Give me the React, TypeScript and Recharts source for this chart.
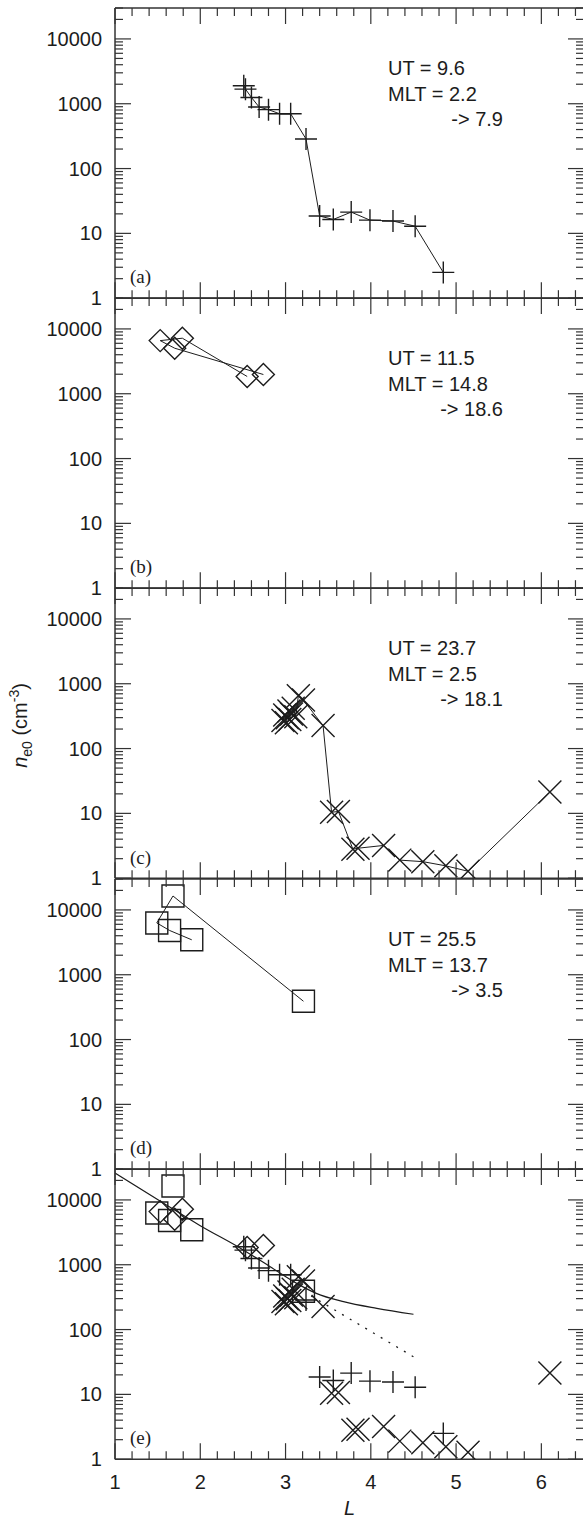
import React from 'react';
import { LineChart, Line, XAxis, YAxis } from 'recharts';

// values: L shell and electron density n_e0 (cm^-3)
const plusL = [2.51, 2.53, 2.6, 2.69, 2.8, 2.93, 3.06, 3.24, 3.4, 3.56, 3.77, 3.99, 4.26, 4.52, 4.85];
const plusN = [1890, 1680, 1250, 890, 810, 700, 700, 286, 18.5, 16.4, 21.3, 16, 15.5, 12.9, 2.5];

const diamondL = [2.55, 1.79, 1.53, 1.7, 2.74];
const diamondN = [1845, 7190, 6600, 5040, 1980];

const crossL = [2.97, 2.99, 3.01, 3.02, 3.04, 3.05, 3.07, 3.09, 3.12, 3.15, 3.21, 3.44, 3.54, 3.62, 3.79, 3.85, 4.15, 4.34, 4.61, 4.88, 5.14, 6.1];
const crossN = [270, 330, 250, 300, 380, 280, 340, 420, 310, 650, 560, 226, 10.4, 10.7, 2.8, 2.9, 3.2, 1.9, 1.8, 1.55, 1.28, 21.4];

const squareL = [3.21, 1.68, 1.49, 1.64, 1.9];
const squareN = [390, 16400, 6300, 4820, 3460];

// model curves in panel (e)
const fitL = [1.0, 1.57, 2.0, 2.47, 2.82, 3.13, 3.36, 3.68, 4.07, 4.5];
const fitN = [26000, 8900, 4000, 1800, 933, 516, 362, 269, 212, 172];
const dottedL = [3.3, 4.5];
const dottedN = [330, 38];

const decades = [1, 10, 100, 1000, 10000];
const yTicks = decades.flatMap((d) => [1, 2, 3, 4, 5, 6, 7, 8, 9].map((m) => m * d)).filter((v) => v <= 30000);
const xTicks = Array.from({ length: 28 }, (_, i) => Math.round((1 + i * 0.2) * 10) / 10);

const panelInfo = [
  { tag: '(a)', ut: '9.6', mlt: '2.2', to: '7.9', kinds: ['plus'] },
  { tag: '(b)', ut: '11.5', mlt: '14.8', to: '18.6', kinds: ['diamond'] },
  { tag: '(c)', ut: '23.7', mlt: '2.5', to: '18.1', kinds: ['cross'] },
  { tag: '(d)', ut: '25.5', mlt: '13.7', to: '3.5', kinds: ['square'] },
  { tag: '(e)', kinds: ['square', 'diamond', 'plus', 'cross'], summary: true },
];

const zip = (ls: number[], ns: number[]) => ls.map((L, i) => ({ L, n: ns[i] }));
const sets: Record<string, { L: number; n: number }[]> = {
  plus: zip(plusL, plusN),
  diamond: zip(diamondL, diamondN),
  cross: zip(crossL, crossN),
  square: zip(squareL, squareN),
};

const PLOT_RIGHT = 584;
const FIRST_TOP = 8;
const PANEL_H = 290.2;
const PAD = 12;
const INK = '#1c1c1c';
const AXIS = '#333';
const SANS = '"Liberation Sans", Arial, Helvetica, sans-serif';
const SERIF = '"Liberation Serif", "Times New Roman", serif';
const FS = 20;

const isMajorX = (v: number) => Math.abs(v - Math.round(v)) < 1e-6;

function Marker({ kind, cx, cy }: any) {
  if (cx == null || cy == null) return null;
  const s = 11;
  let d = '';
  if (kind === 'plus') d = `M${cx - s},${cy}H${cx + s}M${cx},${cy - s}V${cy + s}`;
  else if (kind === 'cross') {
    const c = 11.5;
    d = `M${cx - c},${cy - c}L${cx + c},${cy + c}M${cx - c},${cy + c}L${cx + c},${cy - c}`;
  } else if (kind === 'diamond') d = `M${cx},${cy - s}L${cx + s},${cy}L${cx},${cy + s}L${cx - s},${cy}Z`;
  else d = `M${cx - s},${cy - s}H${cx + s}V${cy + s}H${cx - s}Z`;
  return <path d={d} fill="none" stroke={INK} strokeWidth={1.4} />;
}

const LeftTick = (p: any) => {
  const v = p.payload.value;
  const major = decades.includes(v);
  return (
    <g>
      <line x1={p.x} x2={p.x + (major ? 16 : 8)} y1={p.y} y2={p.y} stroke={AXIS} strokeWidth={1.2} />
      {major && (
        <text x={p.x - 13} y={p.y + 7} textAnchor="end" fontFamily={SANS} fontSize={FS} fill={INK}>
          {v}
        </text>
      )}
    </g>
  );
};

const RightTick = (p: any) => {
  const major = decades.includes(p.payload.value);
  return <line x1={p.x} x2={p.x - (major ? 16 : 8)} y1={p.y} y2={p.y} stroke={AXIS} strokeWidth={1.2} />;
};

const TopTick = (p: any) => {
  const major = isMajorX(p.payload.value);
  return <line x1={p.x} x2={p.x} y1={p.y} y2={p.y + (major ? 16 : 8)} stroke={AXIS} strokeWidth={1.2} />;
};

const makeBottomTick = (labels: boolean) => (p: any) => {
  const v = p.payload.value;
  const major = isMajorX(v);
  return (
    <g>
      <line x1={p.x} x2={p.x} y1={p.y} y2={p.y - (major ? 16 : 8)} stroke={AXIS} strokeWidth={1.2} />
      {labels && major && (
        <text x={p.x} y={p.y + 30} textAnchor="middle" fontFamily={SANS} fontSize={FS} fill={INK}>
          {Math.round(v)}
        </text>
      )}
    </g>
  );
};

function Panel({ index }: { index: number }) {
  const info = panelInfo[index];
  const top = FIRST_TOP + index * PANEL_H;
  const last = index === panelInfo.length - 1;
  const bottomH = last ? 70 : PAD;
  const axisLine = { stroke: AXIS, strokeWidth: 1.5 };
  return (
    <div style={{ position: 'absolute', left: 0, top: top - PAD }}>
      <LineChart width={PLOT_RIGHT + 16} height={PAD + PANEL_H + bottomH} margin={{ top: 0, right: 0, bottom: 0, left: 0 }}>
        <XAxis dataKey="L" type="number" domain={[1, 6.5]} ticks={xTicks} interval={0} height={bottomH}
          tickSize={0} tickMargin={0} tickLine={false} axisLine={axisLine} tick={makeBottomTick(last)} allowDataOverflow />
        <XAxis xAxisId="t" orientation="top" dataKey="L" type="number" domain={[1, 6.5]} ticks={xTicks} interval={0}
          height={PAD} tickSize={0} tickMargin={0} tickLine={false} axisLine={axisLine} tick={TopTick} allowDataOverflow />
        <YAxis type="number" scale="log" domain={[1, 30000]} ticks={yTicks} interval={0} width={115}
          tickSize={0} tickMargin={0} tickLine={false} axisLine={axisLine} tick={LeftTick} allowDataOverflow />
        <YAxis yAxisId="r" orientation="right" type="number" scale="log" domain={[1, 30000]} ticks={yTicks} interval={0}
          width={16} tickSize={0} tickMargin={0} tickLine={false} axisLine={false} tick={RightTick} allowDataOverflow />
        {info.summary && (
          <Line data={zip(fitL, fitN)} dataKey="n" type="monotone" stroke={INK} strokeWidth={1.2} dot={false}
            activeDot={false} isAnimationActive={false} />
        )}
        {info.summary && (
          <Line data={zip(dottedL, dottedN)} dataKey="n" type="linear" stroke={INK} strokeWidth={1.3}
            strokeDasharray="2 7" dot={false} activeDot={false} isAnimationActive={false} />
        )}
        {info.kinds.map((k) => (
          <Line key={k} data={sets[k]} dataKey="n" type="linear" stroke={info.summary ? 'none' : INK} strokeWidth={1}
            dot={(p: any) => <Marker key={p.index} kind={k} cx={p.cx} cy={p.cy} />}
            activeDot={false} isAnimationActive={false} />
        ))}
      </LineChart>
    </div>
  );
}

export default function App() {
  const plotMid = FIRST_TOP + (PANEL_H * panelInfo.length) / 2;
  return (
    <div style={{ position: 'absolute', left: 0, top: 0, width: 583, height: 1522, overflow: 'hidden', background: '#fff' }}>
      {panelInfo.map((_, i) => (
        <Panel key={i} index={i} />
      ))}
      <svg width={583} height={1522} style={{ position: 'absolute', left: 0, top: 0, pointerEvents: 'none' }}>
        {panelInfo.map((p, i) => {
          const top = FIRST_TOP + i * PANEL_H;
          return (
            <g key={p.tag}>
              <text x={130} y={top + PANEL_H - 15} fontFamily={SERIF} fontSize={19} fill={INK}>
                {p.tag}
              </text>
              {p.ut && (
                <g fontFamily={SANS} fontSize={FS} fill={INK}>
                  <text x={388} y={top + 67}>UT = {p.ut}</text>
                  <text x={388} y={top + 93}>MLT = {p.mlt}</text>
                  <text x={503} y={top + 118} textAnchor="end">{'-> ' + p.to}</text>
                </g>
              )}
            </g>
          );
        })}
        <text transform={`translate(27, ${plotMid - 8}) rotate(-90)`} textAnchor="middle" fontFamily={SANS} fontSize={FS} fill={INK}>
          <tspan fontStyle="italic">n</tspan>
          <tspan fontSize={14} dy={5}>e0</tspan>
          <tspan dy={-5}> (cm</tspan>
          <tspan fontSize={14} dy={-8}>-3</tspan>
          <tspan dy={8}>)</tspan>
        </text>
        <text x={349.5} y={1515} textAnchor="middle" fontFamily={SANS} fontSize={FS} fontStyle="italic" fill={INK}>
          L
        </text>
      </svg>
    </div>
  );
}
